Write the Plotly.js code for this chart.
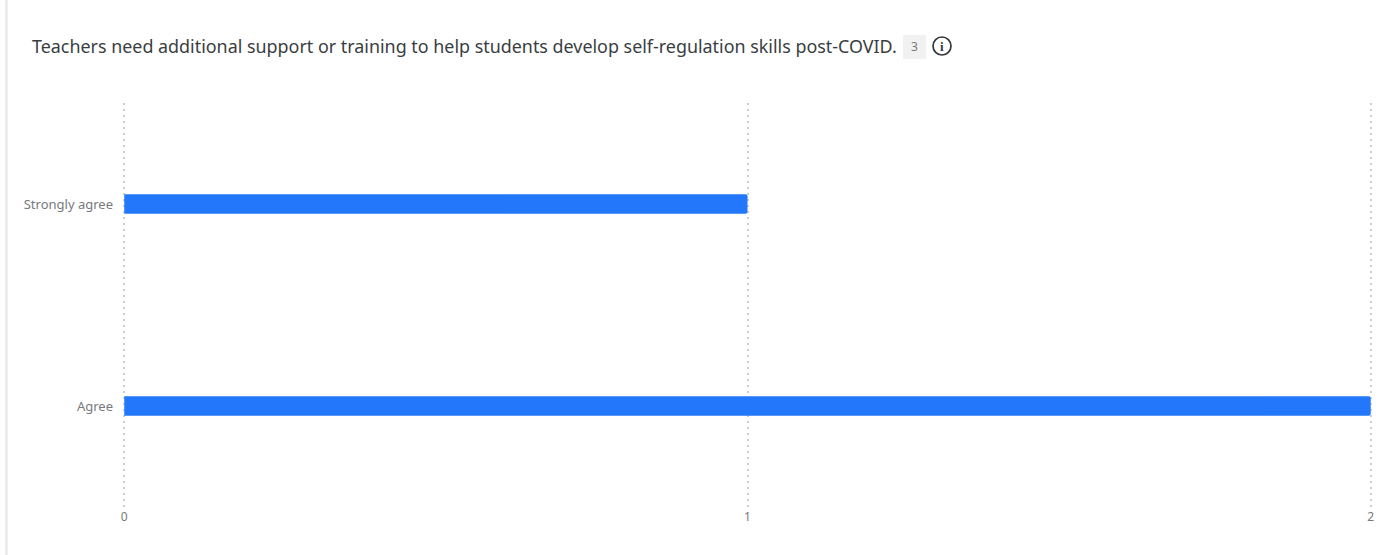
<!DOCTYPE html>
<html>
<head>
<meta charset="utf-8">
<script src="https://cdn.plot.ly/plotly-3.0.1.min.js"></script>
<style>html,body{margin:0;padding:0;background:#fff;overflow:hidden}#chart{width:1387px;height:555px}</style>
</head>
<body>
<div id="chart"></div>
<script>
// Survey responses for a single statement
const categories = ['Agree', 'Strongly agree'];
const responseCounts = [2, 1];
const xTicks = [0, 1, 2];
const questionText = 'Teachers need additional support or training to help students develop self-regulation skills post-COVID.';
const respondentCount = '3';

const W = 1387, H = 555;
const M = {l: 123, r: 15, t: 103, b: 48};
const FONT = '"Noto Sans", "Open Sans", sans-serif';

// Page-pixel helpers for the header decorations
const px = x => (x - M.l) / (W - M.l - M.r);
const py = y => 1 - (y - M.t) / (H - M.t - M.b);

const data = [{
  type: 'bar',
  orientation: 'h',
  y: categories,
  x: responseCounts,
  marker: {color: '#2277fb', cornerradius: 2},
  hoverinfo: 'x+y'
}];

const layout = {
  width: W,
  height: H,
  margin: {l: M.l, r: M.r, t: M.t, b: M.b, pad: 0},
  paper_bgcolor: '#ffffff',
  plot_bgcolor: '#ffffff',
  showlegend: false,
  bargap: 0.904,
  font: {family: FONT, color: '#6f7378', size: 12},
  title: {
    text: questionText,
    font: {family: FONT, size: 17.9, color: '#3a3e42'},
    x: 32 / W, xref: 'container', xanchor: 'left',
    y: 1 - 47 / H, yref: 'container', yanchor: 'middle'
  },
  xaxis: {
    // Overhang of just over a pixel so the gridlines at 0 and 2 are kept
    range: [-0.002, 2.002],
    tickvals: xTicks,
    showgrid: true,
    gridcolor: '#cfcfcf',
    gridwidth: 2,
    griddash: '2px,4px',
    zeroline: false,
    showline: false,
    ticks: '',
    ticklabelstandoff: 1,
    tickfont: {family: FONT, size: 12, color: '#77797c'}
  },
  yaxis: {
    type: 'category',
    categoryorder: 'array',
    categoryarray: categories,
    range: [-0.5, 1.5],
    showgrid: false,
    zeroline: false,
    showline: false,
    ticks: '',
    ticklabelstandoff: 9,
    tickfont: {family: FONT, size: 13, color: '#77797c'}
  },
  shapes: [
    // Panel edge at the far left
    {type: 'line', xref: 'paper', yref: 'paper', x0: px(6.5), x1: px(6.5), y0: py(0), y1: py(555),
     line: {color: '#e4e4e4', width: 2}},
    // Count badge
    {type: 'path', xref: 'paper', yref: 'paper', fillcolor: '#f1f1f1', line: {width: 0},
     path: `M${px(903)},${py(35)} L${px(926)},${py(35)} L${px(926)},${py(59)} L${px(903)},${py(59)} Z`},
    // Info icon ring
    {type: 'circle', xref: 'paper', yref: 'paper', x0: px(933), x1: px(951), y0: py(37), y1: py(55),
     fillcolor: 'rgba(0,0,0,0)', line: {color: '#33373b', width: 1.7}}
  ],
  annotations: [
    {xref: 'paper', yref: 'paper', x: px(914), y: py(47), text: respondentCount, showarrow: false,
     xanchor: 'center', yanchor: 'middle', font: {family: FONT, size: 12, color: '#77797c'}},
    {xref: 'paper', yref: 'paper', x: px(942), y: py(46), text: '<b>i</b>', showarrow: false,
     xanchor: 'center', yanchor: 'middle', font: {family: 'Liberation Serif, serif', size: 13, color: '#33373b'}}
  ]
};

Plotly.newPlot('chart', data, layout, {displayModeBar: false, responsive: false});
</script>
</body>
</html>
